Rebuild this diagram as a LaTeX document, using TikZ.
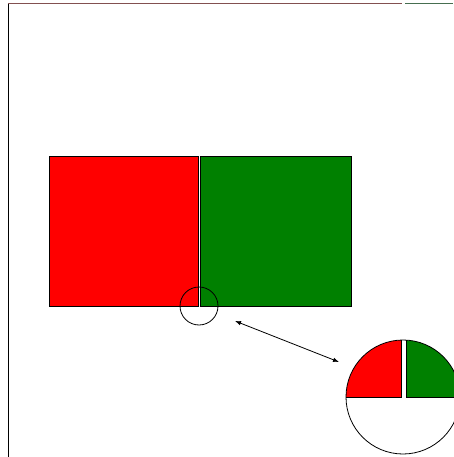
\documentclass[tikz,border=0pt]{standalone}
\usetikzlibrary{arrows.meta}

\definecolor{squarered}{RGB}{255,0,0}
\definecolor{squaregreen}{RGB}{0,128,0}
\definecolor{edgered}{RGB}{130,80,80}
\definecolor{edgegreen}{RGB}{70,110,80}

\begin{document}
\begin{tikzpicture}[
    x=1pt, y=-1pt,
    square/.style={draw=black, line width=0.5pt},
    lens/.style={circle, draw=black, line width=0.8pt, inner sep=0pt}
]
    \useasboundingbox (0,0) rectangle (453,457);

    % frame edges left over from the clipped view
    \draw[line width=1pt, black] (8,457) -- (8,4);
    \draw[line width=1pt, edgered] (8,4) -- (402,4);
    \draw[line width=1pt, edgegreen] (405,4) -- (453,4);

    % the two squares
    \draw[square, fill=squarered] (49,156) rectangle (198.2,306);
    \draw[square, fill=squaregreen] (200.4,156) rectangle (351,306);

    % magnified view
    \begin{scope}
        \clip (403,397) circle (57);
        \begin{scope}[shift={(403,397)}, scale=3, shift={(-199,-306)}]
            \draw[square, line width=0.3pt, fill=squarered] (49,156) rectangle (198.4,306);
            \draw[square, line width=0.3pt, fill=squaregreen] (200.2,156) rectangle (351,306);
        \end{scope}
    \end{scope}

    \node[lens, minimum size=38pt] (spot) at (199,306) {};
    \node[lens, minimum size=114pt] (zoom) at (403,397) {};

    \coordinate (from) at (235,321);
    \coordinate (to) at (339,362);
    \draw[{Latex[length=6pt]}-{Latex[length=6pt]}, line width=0.8pt] (from) -- (to);
\end{tikzpicture}
\end{document}
